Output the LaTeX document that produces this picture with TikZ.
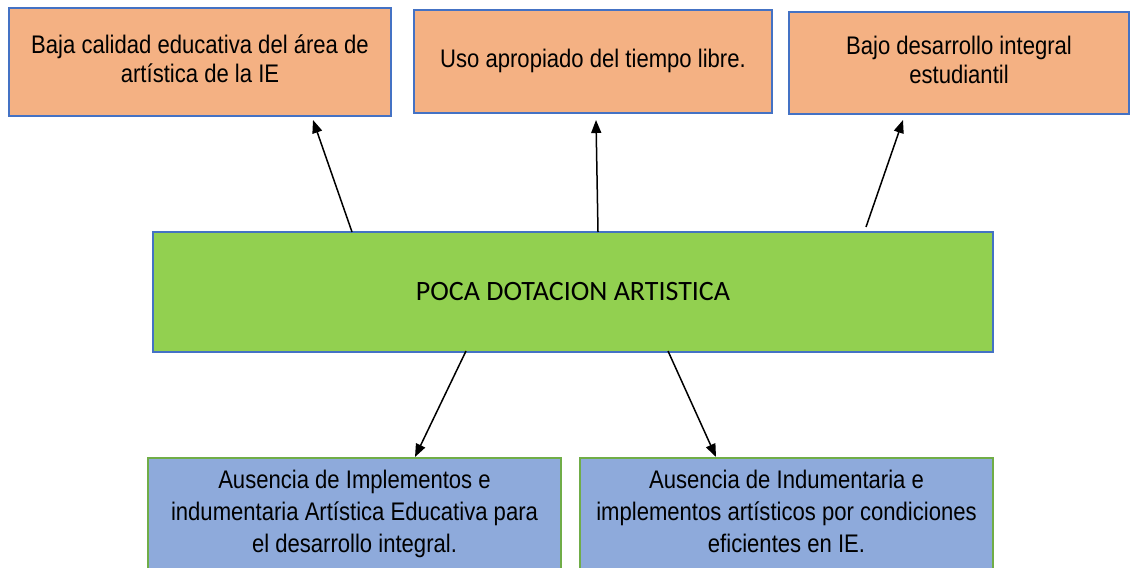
\documentclass[tikz,border=0pt]{standalone}
\usepackage{fontspec}
\setmainfont{Liberation Sans}
\newfontfamily\carlito{Carlito}
\usetikzlibrary{arrows.meta}
\definecolor{peach}{HTML}{F4B183}
\definecolor{bblue}{HTML}{4472C4}
\definecolor{lgreen}{HTML}{92D050}
\definecolor{lblue}{HTML}{8EAADB}
\definecolor{bgreen}{HTML}{70AD47}
\newcommand{\sqtext}[2]{\scalebox{#1}[1.06]{\begin{tabular}{@{}c@{}}#2\end{tabular}}}
\begin{document}
\begin{tikzpicture}[x=1pt,y=-1pt,
  effect/.style={draw=bblue, fill=peach, line width=1.6pt, inner sep=0pt,
    font=\fontsize{24}{27}\selectfont},
  core/.style={draw=bblue, fill=lgreen, line width=1.6pt, inner sep=0pt,
    font=\carlito\fontsize{28}{32}\selectfont},
  cause/.style={draw=bgreen, fill=lblue, line width=1.6pt, inner sep=0pt,
    font=\fontsize{24}{30}\selectfont},
  arr/.style={line width=1.5pt, -{Triangle[length=13pt,width=10pt]}}]
\useasboundingbox (0,0) rectangle (1131,567);
\fill[white] (0,0) rectangle (1131,567);

\node[effect, minimum width=382pt, minimum height=108pt] (t1) at (200,62)
  {\sqtext{0.92}{Baja calidad educativa del área de\\artística de la IE}};
\node[effect, minimum width=358pt, minimum height=103pt] (t2) at (593,61.5)
  {\sqtext{0.92}{Uso apropiado del tiempo libre.}};
\node[effect, minimum width=340pt, minimum height=102pt] (t3) at (959,63)
  {\sqtext{0.92}{Bajo desarrollo integral\\estudiantil}};

\node[core, minimum width=840pt, minimum height=120pt] (g) at (573,292)
  {POCA DOTACION ARTISTICA};

\node[cause, minimum width=413pt, minimum height=112pt] (b1) at (354.5,514)
  {\sqtext{0.92}{Ausencia de Implementos e\\indumentaria Artística Educativa para\\el desarrollo integral.}};
\node[cause, minimum width=413pt, minimum height=112pt] (b2) at (786.5,514)
  {\sqtext{0.92}{Ausencia de Indumentaria e\\implementos artísticos por condiciones\\eficientes en IE.}};

\coordinate (a1s) at (352,232);
\coordinate (a1e) at (313,120);
\coordinate (a2s) at (598,232);
\coordinate (a2e) at (596,120);
\coordinate (a3s) at (866,227);
\coordinate (a3e) at (903,120);
\coordinate (a4s) at (466,351);
\coordinate (a4e) at (415,457);
\coordinate (a5s) at (668,351);
\coordinate (a5e) at (716,457);

\draw[arr] (a1s) -- (a1e);
\draw[arr] (a2s) -- (a2e);
\draw[arr] (a3s) -- (a3e);
\draw[arr] (a4s) -- (a4e);
\draw[arr] (a5s) -- (a5e);
\end{tikzpicture}
\end{document}
